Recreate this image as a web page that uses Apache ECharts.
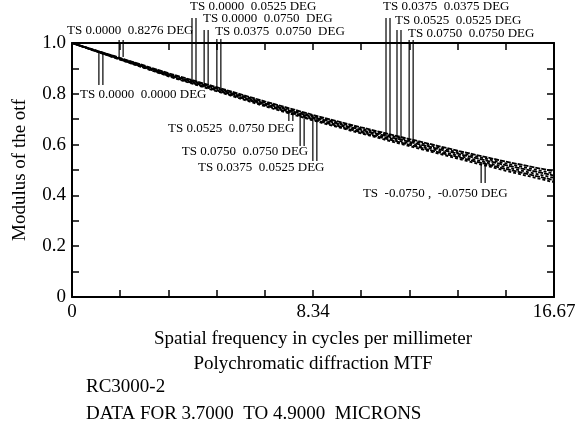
<!DOCTYPE html>
<html lang="en">
<head>
    <meta charset="UTF-8">
    <title>Polychromatic diffraction MTF</title>
    <script type="text/javascript" src="https://cdn.jsdelivr.net/npm/echarts@6/dist/echarts.min.js"></script>
    <style>
        html, body { margin: 0; padding: 0; background: #fff; }
    </style>
</head>
<body>
<div id="mtf" style="width: 582px;height:430px;"></div>
<script>
    // spatial frequency (cycles/mm)
    var freq = [0, 1.667, 3.334, 5.001, 6.668, 8.335, 10.002, 11.669, 13.336, 15.003, 16.67];
    // modulus of the otf, one array per field curve
    var mtf1 = [1.0, 0.941, 0.881, 0.826, 0.770, 0.717, 0.668, 0.622, 0.576, 0.533, 0.495];
    var mtf2 = [1.0, 0.940, 0.878, 0.823, 0.766, 0.713, 0.663, 0.617, 0.570, 0.526, 0.486];
    var mtf3 = [1.0, 0.938, 0.876, 0.820, 0.762, 0.708, 0.658, 0.611, 0.564, 0.519, 0.478];
    var mtf4 = [1.0, 0.937, 0.874, 0.816, 0.758, 0.704, 0.653, 0.605, 0.557, 0.511, 0.469];
    var mtf5 = [1.0, 0.935, 0.871, 0.813, 0.755, 0.699, 0.648, 0.599, 0.551, 0.504, 0.460];
    var mtf6 = [1.0, 0.934, 0.869, 0.810, 0.751, 0.695, 0.644, 0.594, 0.545, 0.497, 0.452];
    var curves = [mtf1, mtf2, mtf3, mtf4, mtf5, mtf6];

    // x tick labels that are shown
    var xLabelValues = [0, 8.335, 16.67];
    var xLabelTexts = ['0', '8.34', '16.67'];

    // field annotations (data coordinates)
    var annoText = [
        'TS 0.0000  0.8276 DEG',
        'TS 0.0000  0.0000 DEG',
        'TS 0.0000  0.0525 DEG',
        'TS 0.0000  0.0750  DEG',
        'TS 0.0375  0.0750  DEG',
        'TS 0.0375  0.0375 DEG',
        'TS 0.0525  0.0525 DEG',
        'TS 0.0750  0.0750 DEG',
        'TS 0.0525  0.0750 DEG',
        'TS 0.0750  0.0750 DEG',
        'TS 0.0375  0.0525 DEG',
        'TS  -0.0750 ,  -0.0750 DEG'
    ];
    var annoLineX = [1.63, 0.93, 4.15, 4.57, 5.01, 10.86, 11.24, 11.66, 7.50, 7.89, 8.33, 14.15];
    var annoTop = [1.012, 0.961, 1.098, 1.051, 1.016, 1.098, 1.051, 1.012, 0.736, 0.724, 0.713, 0.531];
    var annoBottom = [0.945, 0.835, 0.846, 0.835, 0.823, 0.634, 0.622, 0.610, 0.693, 0.594, 0.535, 0.449];
    var annoLabelX = [-0.17, 0.28, 4.08, 4.53, 4.95, 10.76, 11.17, 11.62, 3.32, 3.80, 4.36, 10.06];
    var annoLabelY = [1.047, 0.795, 1.142, 1.098, 1.043, 1.142, 1.087, 1.039, 0.665, 0.571, 0.508, 0.409];

    var serif = '"Liberation Serif", "Times New Roman", serif';

    var lineSeries = curves.map(function (c, k) {
        return {
            type: 'line',
            symbol: 'none',
            silent: true,
            animation: false,
            lineStyle: {
                color: '#000',
                width: 1.8,
                type: k % 2 ? [3, 2] : [5, 1],
                dashOffset: k
            },
            data: freq.map(function (f, i) { return [f, c[i]]; })
        };
    });

    var annoSeries = {
        type: 'custom',
        silent: true,
        animation: false,
        encode: {x: 0, y: 1},
        data: annoText.map(function (t, i) {
            return [annoLineX[i], annoTop[i], annoBottom[i], annoLabelX[i], annoLabelY[i]];
        }),
        renderItem: function (params, api) {
            var p1 = api.coord([api.value(0), api.value(1)]);
            var p2 = api.coord([api.value(0), api.value(2)]);
            var lp = api.coord([api.value(3), api.value(4)]);
            var st = {stroke: '#000', lineWidth: 1.2};
            return {
                type: 'group',
                children: [
                    {type: 'line', shape: {x1: p1[0], y1: p1[1], x2: p2[0], y2: p2[1]}, style: st},
                    {type: 'line', shape: {x1: p1[0] + 4, y1: p1[1], x2: p2[0] + 4, y2: p2[1]}, style: st},
                    {
                        type: 'text',
                        style: {
                            text: annoText[params.dataIndex],
                            x: lp[0], y: lp[1],
                            font: '13px ' + serif,
                            fill: '#000',
                            align: 'left',
                            verticalAlign: 'middle'
                        }
                    }
                ]
            };
        }
    };

    function axisLine() {
        return {show: true, onZero: false, lineStyle: {color: '#000', width: 2}};
    }

    option = {
        backgroundColor: '#fff',
        animation: false,
        textStyle: {fontFamily: serif, color: '#000'},
        title: [
            {text: 'RC3000-2', left: 86, top: 378, padding: 0,
                textStyle: {fontFamily: serif, fontSize: 19, fontWeight: 'normal', color: '#000'}},
            {text: 'DATA FOR 3.7000  TO 4.9000  MICRONS', left: 86, top: 405, padding: 0,
                textStyle: {fontFamily: serif, fontSize: 19, fontWeight: 'normal', color: '#000'}}
        ],
        grid: {left: 72, right: 28, top: 43, bottom: 133},
        xAxis: [
            {
                type: 'value', min: 0, max: 16.67, interval: 1.667,
                name: 'Spatial frequency in cycles per millimeter\nPolychromatic diffraction MTF',
                nameLocation: 'middle', nameGap: 30,
                nameTextStyle: {fontFamily: serif, fontSize: 19, color: '#000', lineHeight: 25},
                axisLine: axisLine(),
                axisTick: {show: true, inside: true, length: 7, lineStyle: {color: '#000', width: 1.5}},
                splitLine: {show: false},
                axisLabel: {
                    fontFamily: serif, fontSize: 19, color: '#000', margin: 6,
                    formatter: function (v) {
                        for (var i = 0; i < xLabelValues.length; i++) {
                            if (Math.abs(v - xLabelValues[i]) < 0.01) return xLabelTexts[i];
                        }
                        return '';
                    }
                }
            },
            {
                type: 'value', position: 'top', min: 0, max: 16.67, interval: 1.667,
                axisLine: axisLine(),
                axisTick: {show: true, inside: true, length: 7, lineStyle: {color: '#000', width: 1.5}},
                axisLabel: {show: false},
                splitLine: {show: false}
            }
        ],
        yAxis: [
            {
                type: 'value', min: 0, max: 1, interval: 0.1,
                name: 'Modulus of the otf',
                nameLocation: 'middle', nameGap: 42,
                nameTextStyle: {fontFamily: serif, fontSize: 19, color: '#000'},
                axisLine: axisLine(),
                axisTick: {show: true, inside: true, length: 7, lineStyle: {color: '#000', width: 1.5}},
                splitLine: {show: false},
                axisLabel: {
                    fontFamily: serif, fontSize: 19, color: '#000', margin: 6,
                    formatter: function (v) {
                        var r = Math.round(v * 10);
                        if (r % 2) return '';
                        if (r === 0) return '0';
                        return (r / 10).toFixed(1);
                    }
                }
            },
            {
                type: 'value', position: 'right', min: 0, max: 1, interval: 0.1,
                axisLine: axisLine(),
                axisTick: {show: true, inside: true, length: 7, lineStyle: {color: '#000', width: 1.5}},
                axisLabel: {show: false},
                splitLine: {show: false}
            }
        ],
        series: lineSeries.concat([annoSeries])
    };

    var myChart = echarts.init(document.getElementById('mtf'));
    myChart.setOption(option);
</script>
</body>
</html>
